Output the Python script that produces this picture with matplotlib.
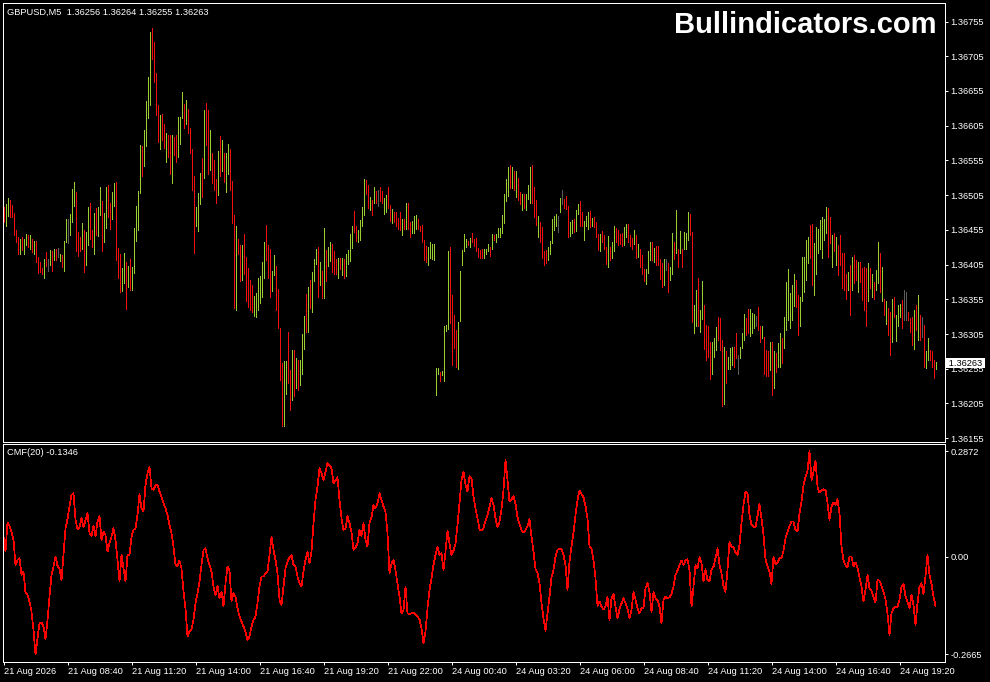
import numpy as np
import matplotlib
matplotlib.use("Agg")
import matplotlib.pyplot as plt
from matplotlib import transforms

plt.rcParams['font.family'] = ['Liberation Sans', 'DejaVu Sans']

symbol = "GBPUSD,M5"
last_ohlc = ["1.36256", "1.36264", "1.36255", "1.36263"]
cmf_name = "CMF(20)"
cmf_last = "-0.1346"
watermark = "Bullindicators.com"

# bar highs / lows, in 0.00001 above 1.36000 (one per M5 bar)
high_pts = [
    488, 492, 501, 498, 491, 479, 455, 445, 442, 445,
    442, 449, 447, 448, 442, 439, 439, 416, 409, 400,
    413, 423, 413, 426, 424, 427, 427, 429, 420, 419,
    439, 471, 471, 478, 514, 524, 510, 452, 444, 465,
    455, 452, 488, 494, 455, 479, 486, 488, 517, 496,
    479, 517, 520, 494, 509, 522, 524, 429, 420, 400,
    422, 409, 403, 413, 402, 458, 489, 511, 577, 576,
    599, 641, 675, 740, 746, 726, 681, 635, 620, 622,
    607, 595, 592, 591, 592, 589, 592, 618, 617, 653,
    636, 642, 629, 602, 571, 533, 488, 508, 537, 558,
    628, 637, 628, 599, 566, 556, 528, 568, 590, 584,
    565, 566, 579, 571, 525, 476, 461, 442, 433, 433,
    449, 416, 400, 383, 376, 360, 364, 385, 388, 409,
    438, 462, 433, 428, 396, 419, 403, 370, 313, 263,
    266, 266, 308, 253, 282, 282, 270, 268, 268, 305,
    331, 363, 372, 383, 394, 413, 428, 431, 409, 396,
    457, 426, 431, 437, 435, 424, 413, 415, 415, 415,
    413, 420, 426, 449, 460, 482, 461, 455, 469, 488,
    528, 527, 520, 503, 498, 516, 511, 512, 516, 511,
    501, 505, 516, 491, 485, 480, 481, 472, 480, 470,
    470, 494, 494, 467, 468, 475, 476, 471, 461, 462,
    440, 432, 431, 438, 435, 435, 256, 256, 251, 252,
    316, 318, 425, 431, 361, 332, 311, 322, 396, 426,
    449, 442, 439, 443, 451, 442, 443, 429, 426, 427,
    428, 428, 434, 430, 449, 448, 449, 457, 457, 476,
    507, 528, 546, 548, 546, 540, 540, 530, 509, 507,
    507, 507, 520, 545, 548, 517, 498, 475, 467, 459,
    424, 426, 430, 439, 471, 475, 478, 475, 501, 512,
    500, 504, 489, 467, 469, 471, 483, 492, 496, 481,
    468, 475, 481, 482, 472, 473, 467, 449, 449, 454,
    448, 431, 446, 430, 438, 461, 457, 455, 449, 451,
    459, 464, 464, 448, 443, 455, 448, 434, 427, 419,
    398, 399, 425, 438, 437, 429, 432, 432, 413, 407,
    413, 413, 407, 402, 450, 438, 483, 428, 453, 428,
    452, 450, 481, 478, 452, 347, 368, 385, 340, 381,
    347, 318, 317, 294, 294, 299, 315, 329, 328, 296,
    287, 280, 272, 285, 287, 287, 306, 275, 286, 306,
    334, 328, 341, 341, 335, 334, 331, 344, 316, 316,
    301, 282, 281, 294, 294, 280, 277, 292, 306, 299,
    330, 380, 399, 364, 376, 392, 383, 361, 359, 416,
    416, 440, 445, 462, 464, 436, 459, 456, 469, 473,
    471, 488, 486, 473, 448, 450, 445, 433, 448, 421,
    421, 392, 395, 404, 416, 419, 411, 409, 409, 400,
    402, 400, 407, 400, 392, 380, 397, 438, 421, 402,
    356, 352, 342, 337, 356, 358, 332, 347, 348, 354,
    368, 366, 337, 328, 330, 340, 347, 361, 332, 330,
    318, 280, 299, 282, 280, 268, 264,
]
low_pts = [
    467, 461, 475, 474, 474, 448, 438, 420, 420, 426,
    420, 433, 431, 427, 423, 420, 408, 393, 395, 391,
    386, 403, 396, 404, 396, 412, 412, 416, 410, 402,
    396, 438, 436, 448, 467, 489, 425, 418, 424, 427,
    395, 404, 433, 442, 431, 420, 448, 446, 476, 425,
    438, 458, 474, 456, 470, 489, 412, 386, 366, 367,
    379, 341, 372, 368, 368, 393, 439, 455, 508, 533,
    547, 576, 616, 635, 701, 668, 620, 581, 571, 584,
    573, 552, 560, 536, 523, 563, 552, 560, 579, 616,
    601, 607, 594, 565, 513, 421, 461, 453, 492, 503,
    529, 577, 536, 541, 522, 512, 494, 505, 532, 540,
    524, 509, 536, 513, 465, 343, 340, 420, 381, 383,
    391, 352, 344, 340, 336, 331, 330, 339, 350, 359,
    386, 412, 385, 359, 367, 390, 340, 313, 239, 173,
    173, 219, 235, 196, 210, 216, 227, 224, 232, 247,
    283, 308, 308, 343, 337, 381, 406, 359, 376, 357,
    357, 382, 403, 410, 395, 391, 392, 386, 399, 390,
    386, 389, 406, 410, 429, 452, 439, 437, 440, 460,
    476, 506, 487, 484, 476, 493, 493, 489, 496, 493,
    478, 481, 487, 468, 465, 467, 461, 456, 455, 448,
    456, 456, 456, 444, 450, 450, 456, 456, 453, 438,
    412, 408, 404, 414, 413, 412, 217, 247, 237, 246,
    237, 310, 312, 321, 260, 285, 257, 255, 324, 404,
    425, 431, 433, 431, 437, 432, 425, 416, 415, 415,
    415, 420, 425, 418, 427, 440, 437, 444, 445, 451,
    465, 497, 504, 515, 515, 513, 503, 498, 492, 484,
    487, 483, 499, 493, 494, 474, 462, 445, 438, 415,
    405, 407, 411, 420, 436, 455, 461, 452, 480, 492,
    486, 485, 444, 446, 451, 452, 453, 478, 461, 461,
    440, 461, 456, 459, 461, 459, 444, 426, 425, 437,
    427, 406, 402, 412, 415, 425, 437, 433, 435, 432,
    433, 444, 438, 432, 427, 435, 415, 416, 402, 391,
    381, 377, 393, 412, 412, 408, 405, 404, 384, 372,
    376, 397, 366, 383, 392, 413, 421, 401, 422, 401,
    428, 428, 440, 447, 323, 307, 316, 316, 308, 327,
    284, 268, 272, 240, 248, 272, 282, 296, 282, 202,
    204, 234, 254, 254, 260, 258, 271, 248, 270, 285,
    296, 304, 306, 302, 306, 313, 316, 311, 293, 299,
    248, 244, 244, 253, 217, 227, 251, 258, 258, 263,
    285, 311, 325, 313, 325, 346, 344, 304, 316, 352,
    366, 383, 407, 415, 376, 361, 392, 421, 427, 415,
    440, 450, 416, 436, 402, 424, 404, 390, 404, 371,
    368, 356, 368, 332, 368, 378, 383, 366, 380, 354,
    340, 316, 352, 371, 359, 356, 368, 378, 366, 352,
    332, 320, 304, 275, 294, 330, 295, 317, 329, 313,
    325, 325, 325, 308, 289, 284, 311, 296, 296, 301,
    258, 256, 268, 268, 258, 241, 255,
]
# u = closed up, d = closed down, n = unchanged
bar_dir = (
    "duudddddud" "uudududddd" "udnududnud" "uunuuudddu" "duudduduud"
    "uudduudddu" "ududuuuuud" "uuuuddddud" "duddudduuu" "dudddduuud"
    "uddudddudu" "duuddduddu" "ddddduuuuu" "uddduudddd" "uuddududuu"
    "ududuuudud" "uduudddudu" "duuuudduuu" "uddududndd" "uudduddddu"
    "dudduuuddd" "dduuuuuudu" "uuudddduuu" "uududddddd" "uuududuuuu"
    "uuudududdu" "duuudddudd" "dduuuuunun" "ddduuduudd" "uuududddud"
    "dduduudddd" "uudddududd" "duuududddd" "unduududud" "uuudduuduu"
    "dddduuuddd" "uduuuddnuu" "udduuunddu" "dddududuud" "uuuuuudduu"
    "uuudduuuuu" "uuddududdd" "ddududdudd" "ddududuudu" "dudduduuud"
    "nndddududn" "duudddu"
)
# Chaikin money flow (20), in 0.0001
cmf_e4 = [
    542, 133, 923, 832, 678, 451, -230, -94, -48, -502,
    -412, -984, -1047, -1229, -1501, -2001, -2665, -2227, -1819, -1801,
    -1910, -2255, -1728, -1093, -502, -275, -3, -257, -321, -639,
    42, 769, 1014, 1359, 1677, 1722, 996, 742, 796, 1041,
    796, 996, 1177, 633, 560, 832, 542, 950, 1105, 451,
    678, 587, 133, 360, 542, 769, 451, -94, -684, 42,
    -321, -684, 42, 42, 542, 723, 769, 1132, 1704, 1313,
    1223, 1949, 2267, 2449, 1858, 1813, 1949, 1949, 1767, 1631,
    1450, 1313, 1132, 859, 633, 269, -230, -257, -112, -321,
    -956, -1410, -2182, -2046, -1982, -1728, -1274, -1002, -684, -230,
    178, 223, -48, -230, -412, -820, -1047, -802, -1138, -956,
    -1365, -729, -275, -384, -1229, -1002, -1093, -1410, -1637, -1773,
    -1910, -2046, -2273, -2182, -1910, -1728, -1637, -1274, -820, -548,
    -548, -457, -412, 42, 542, 178, -94, -457, -1183, -1320,
    -820, -321, -139, -21, 42, -230, -275, -548, -729, -820,
    -412, -94, 133, -185, 133, 905, 1540, 1904, 2403, 2267,
    2085, 2312, 2539, 2494, 2403, 1994, 2067, 2158, 1540, 1041,
    723, 769, 1105, 905, 651, 178, 251, 360, 723, 560,
    905, 451, 269, 923, 1068, 1404, 1313, 1450, 1722, 1540,
    1359, 1223, 633, -457, -185, -94, -366, -749, -1093, -1548,
    -1457, -820, -1548, -1566, -1548, -1530, -1593, -1639, -1712, -1957,
    -2366, -2048, -1412, -912, -594, -230, 42, 250, 42, 87,
    -366, 133, 705, 360, 42, 160, 341, 859, 1450, 2085,
    2312, 1949, 1767, 2194, 2131, 1631, 1313, 1041, 742, 705,
    769, 978, 1132, 1359, 1586, 1404, 1041, 796, 950, 1286,
    1813, 2630, 2085, 1495, 1558, 1649, 1431, 1068, 886, 723,
    651, 723, 832, 1014, 542, 133, -348, -439, -730, -1276,
    -1684, -2021, -1548, -1093, -567, -366, -3, 178, 223, 196,
    42, -230, -912, -140, 269, 651, 1132, 1540, 1794, 1704,
    1613, 1377, 1041, 269, 223, -94, -594, -1348, -1230, -1365,
    -1439, -1365, -1093, -1730, -1139, -1021, -1365, -1684, -1439, -1276,
    -1139, -1276, -1412, -1684, -1457, -958, -1167, -1412, -1548, -1412,
    -1412, -867, -730, -958, -1503, -958, -1139, -1185, -1365, -1820,
    -1185, -1094, -1139, -1112, -1021, -821, -503, -385, -230, -112,
    -230, -112, -76, -367, -1365, -821, -230, -321, -22, -167,
    -685, -349, -639, -685, -349, -276, -49, 223, -230, -457,
    -821, -958, -367, 405, 250, 250, 105, 42, 314, 922,
    1404, 1767, 1722, 1131, 859, 813, 795, 1104, 1431, 1041,
    588, -77, -258, -413, -749, -4, -204, -167, -49, -49,
    160, 496, 677, 832, 950, 950, 723, 677, 1177, 1495,
    1949, 2176, 2339, 2872, 2085, 2312, 2612, 1904, 1740, 1794,
    1831, 1813, 1467, 995, 1359, 1467, 1404, 1558, 1177, 268,
    -113, -230, -294, -4, -4, -276, -167, -294, -567, -821,
    -1230, -912, -503, -867, -931, -1094, -1257, -640, -658, -803,
    -958, -1167, -1548, -2138, -1548, -1412, -1367, -1367, -1185, -821,
    -749, -1076, -1230, -1412, -1049, -1321, -1866, -1276, -821, -730,
    -1021, -549, 42, -503, -749, -1094, -1346,
]

time_ticks = [0, 32, 64, 96, 128, 160, 192, 224, 256, 288, 320, 352, 384, 416, 448]
time_labels = ["21 Aug 2026", "21 Aug 08:40", "21 Aug 11:20", "21 Aug 14:00",
               "21 Aug 16:40", "21 Aug 19:20", "21 Aug 22:00", "24 Aug 00:40",
               "24 Aug 03:20", "24 Aug 06:00", "24 Aug 08:40", "24 Aug 11:20",
               "24 Aug 14:00", "24 Aug 16:40", "24 Aug 19:20"]
price_ticks = [1.36155, 1.36205, 1.36255, 1.36305, 1.36355, 1.36405, 1.36455,
               1.36505, 1.36555, 1.36605, 1.36655, 1.36705, 1.36755]
cmf_ticks = [0.2872, 0.0, -0.2665]
cmf_tick_labels = ["0.2872", "0.00", "-0.2665"]

n = min(len(high_pts), len(low_pts), len(bar_dir), len(cmf_e4))
x = np.arange(n)
highs = 1.36 + np.array(high_pts[:n]) / 1e5
lows = 1.36 + np.array(low_pts[:n]) / 1e5
cmf = np.array(cmf_e4[:n]) / 1e4
palette = {'u': '#9acd32', 'd': '#f01010', 'n': '#5c5c5c'}

W, H = 990, 682
fig = plt.figure(figsize=(W / 100, H / 100), dpi=100, facecolor='black')


def rect(l, t, r, b):
    return [l / W, 1 - b / H, (r - l) / W, (b - t) / H]


ax = fig.add_axes(rect(2.5, 2.5, 944.5, 441.5))
axc = fig.add_axes(rect(2.5, 443.5, 944.5, 661.5))

lw = 0.72  # one pixel
fs = 6.7

ax.vlines(x, lows, highs, colors=[palette[c] for c in bar_dir[:n]],
          linewidth=lw, antialiased=False)
ax.set_xlim(-0.5, 470.5)
ax.set_ylim(1.361502, 1.367824)

axc.plot(x, cmf, color='#ff0000', linewidth=0.5, antialiased=False)
axc.set_xlim(-0.5, 470.5)
axc.set_ylim(-0.2861, 0.3079)

for a in (ax, axc):
    a.set_facecolor('black')
    for s in a.spines.values():
        s.set_color('white')
        s.set_linewidth(lw)
    a.yaxis.tick_right()
    a.tick_params(axis='y', colors='white', direction='out', length=2.2,
                  width=lw, pad=2.2, labelsize=fs)

ax.set_xticks([])
ax.set_yticks(price_ticks)
ax.set_yticklabels([f"{p:.5f}" for p in price_ticks])

axc.set_yticks(cmf_ticks)
axc.set_yticklabels(cmf_tick_labels)
axc.set_xticks(time_ticks)
axc.set_xticklabels(time_labels)
for lab in axc.get_xticklabels():
    lab.set_horizontalalignment('left')
axc.tick_params(axis='x', colors='white', direction='out', length=2.2,
                width=lw, pad=2.0, labelsize=fs)

fig.text(7 / W, 1 - 14.5 / H, f"{symbol}  {' '.join(last_ohlc)}",
         color='white', fontsize=fs, va='baseline', ha='left')
fig.text(7 / W, 1 - 455 / H, f"{cmf_name} {cmf_last}",
         color='white', fontsize=fs, va='baseline', ha='left')
fig.text(937 / W, 1 - 33 / H, watermark, color='white', fontsize=21,
         fontweight='bold', va='baseline', ha='right')

# current price tag on the price scale
blend = transforms.blended_transform_factory(ax.transAxes, ax.transData)
tag = transforms.offset_copy(blend, fig=fig, x=1.5, y=0, units='dots')
ax.text(1.0, float(last_ohlc[3]), f" {last_ohlc[3]} ", transform=tag,
        ha='left', va='center', fontsize=fs, color='black', clip_on=False,
        zorder=10, bbox=dict(boxstyle='square,pad=0.05', fc='white', ec='none'))

fig.savefig('out.png', dpi=100, facecolor='black')
